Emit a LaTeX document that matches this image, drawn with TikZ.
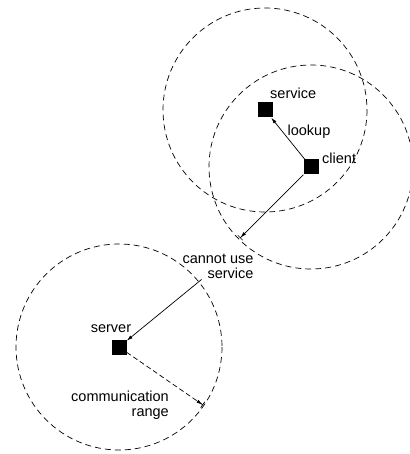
\documentclass[tikz,border=0pt]{standalone}
\usepackage{fontspec}
\setmainfont{Liberation Sans}
\usetikzlibrary{arrows.meta}
\tikzset{
    host/.style={fill=black,minimum size=15pt,inner sep=0pt},
    reach/.style={dash pattern=on 6pt off 4pt,line width=0.7pt},
    lbl/.style={font=\fontsize{14.5}{15}\selectfont,inner sep=1pt},
    conn/.style={line width=0.7pt,-{Latex[length=6pt,width=3.5pt]}},
    limit/.style={line width=0.7pt,-{Latex[length=6pt,width=3.5pt]Bar[width=7pt,line width=0.7pt]}}
}
\begin{document}
\begin{tikzpicture}[x=1pt,y=-1pt]
            \useasboundingbox (0,0) rectangle (409,454);
            \node[host] (V) at (265,110) {};
            \node[host] (C) at (311,167) {};
            \node[host] (S) at (119,347) {};
            \coordinate (E) at (240,238);
            \coordinate (F) at (203,405);

            \draw[reach] (V) circle (102);
            \draw[reach] (C) circle (102);
            \draw[reach] (S) circle (103);

            \node[lbl,anchor=west] (Vl) at (269,93)  {service};
            \node[lbl]             (L)  at (309,132) {lookup};
            \node[lbl,anchor=west] (Cl) at (321,158) {client};
            \node[lbl,align=right] (T)  at (218,266) {cannot use\\service};
            \node[lbl]             (Sl) at (111,329) {server};
            \node[lbl,align=right] (R)  at (120,405) {communication\\range};

            \draw[conn]  (C) -- (V);
            \draw[limit] (C) -- (E);
            \draw[conn]  (T) -- (S);
            \draw[limit,dash pattern=on 5pt off 3pt] (S) -- (F);
        \end{tikzpicture}
\end{document}
